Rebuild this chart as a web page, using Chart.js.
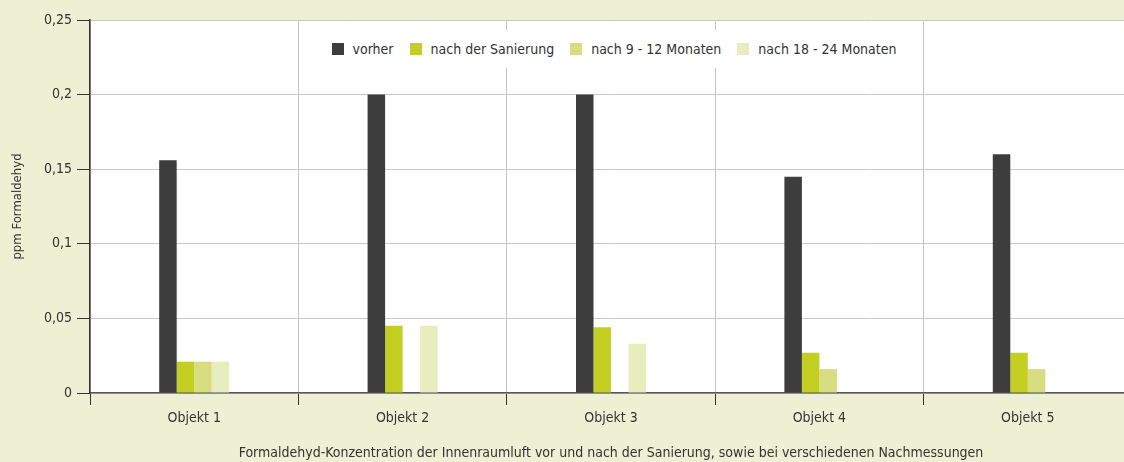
<!DOCTYPE html>
<html>
<head>
<meta charset="utf-8">
<script src="https://cdn.jsdelivr.net/npm/chart.js@4"></script>
<style>
  html, body { margin: 0; padding: 0; background: #eef0d3; overflow: hidden; }
  #wrap { position: relative; width: 1132px; height: 462px; }
  #legende {
    position: absolute; left: 330px; top: 30px; width: 568px; height: 38px;
    background: #fff; display: flex; align-items: center; justify-content: center;
    font-family: 'DejaVu Sans Condensed', sans-serif;
    font-size: 14px; color: #333; white-space: nowrap;
  }
  #legende span.item { display: flex; align-items: center; margin: 0 8px; }
  #legende span.box { width: 12px; height: 12px; margin-right: 9px; }
</style>
</head>
<body>
<div id="wrap">
  <canvas id="grafico" width="1132" height="462"></canvas>
  <div id="legende"></div>
</div>
<script>
const objekte = ["Objekt 1", "Objekt 2", "Objekt 3", "Objekt 4", "Objekt 5"];
const vorher = [0.156, 0.2, 0.2, 0.145, 0.16];
const nachSanierung = [0.021, 0.045, 0.044, 0.027, 0.027];
const nach9bis12 = [0.021, 0, 0, 0.016, 0.016];
const nach18bis24 = [0.021, 0.045, 0.033, 0, 0];
const yTicks = [0, 0.05, 0.1, 0.15, 0.2, 0.25];

const schrift = "'DejaVu Sans Condensed', sans-serif";

const serien = [
  { label: "vorher", data: vorher, color: "#3d3d3d" },
  { label: "nach der Sanierung", data: nachSanierung, color: "#c3cf22" },
  { label: "nach 9 - 12 Monaten", data: nach9bis12, color: "#d8dd80" },
  { label: "nach 18 - 24 Monaten", data: nach18bis24, color: "#e8edbe" }
];

// legende als html, weisser kasten im diagramm
const legende = document.getElementById("legende");
serien.forEach(s => {
  const item = document.createElement("span");
  item.className = "item";
  item.innerHTML = `<span class="box" style="background:${s.color}"></span>${s.label}`;
  legende.appendChild(item);
});

const weisseFlaeche = {
  id: "weisseFlaeche",
  beforeDraw(chart) {
    const a = chart.chartArea;
    const ctx = chart.ctx;
    ctx.save();
    ctx.fillStyle = "#fff";
    ctx.fillRect(a.left, a.top, a.right - a.left, a.bottom - a.top);
    ctx.restore();
  }
};

const ctx = document.getElementById("grafico").getContext("2d");

new Chart(ctx, {
  type: "bar",
  data: {
    labels: objekte,
    datasets: serien.map(s => ({
      label: s.label,
      data: s.data,
      backgroundColor: s.color,
      borderWidth: 0
    }))
  },
  plugins: [weisseFlaeche],
  options: {
    responsive: false,
    animation: false,
    layout: { padding: { top: 20, right: 0, left: 0, bottom: 0 } },
    datasets: { bar: { barPercentage: 1, categoryPercentage: 0.336 } },
    plugins: {
      legend: { display: false },
      tooltip: { enabled: false }
    },
    scales: {
      x: {
        grid: {
          offset: true,
          color: "#c4c4c4",
          tickColor: "#333",
          tickLength: 12,
          lineWidth: 1
        },
        border: { color: "#555", width: 1.5 },
        ticks: { color: "#333", font: { family: schrift, size: 14 }, padding: 5 },
        title: {
          display: true,
          text: "Formaldehyd-Konzentration der Innenraumluft vor und nach der Sanierung, sowie bei verschiedenen Nachmessungen",
          color: "#333",
          font: { family: schrift, size: 14 },
          padding: { top: 10, bottom: 0 }
        },
        afterFit(scale) { scale.height = 69; }
      },
      y: {
        min: 0,
        max: 0.25,
        afterBuildTicks(scale) { scale.ticks = yTicks.map(v => ({ value: v })); },
        grid: { color: "#c8c8c8", tickColor: "#333", tickLength: 13, lineWidth: 1 },
        border: { color: "#333", width: 1.5 },
        ticks: {
          color: "#333",
          padding: 5,
          font: { family: schrift, size: 14 },
          callback: v => String(v).replace(".", ",")
        },
        title: {
          display: true,
          text: "ppm Formaldehyd",
          color: "#333",
          font: { family: schrift, size: 13 },
          padding: { top: 10, bottom: 0 }
        },
        afterFit(scale) { scale.width = 90; }
      }
    }
  }
});
</script>
</body>
</html>
